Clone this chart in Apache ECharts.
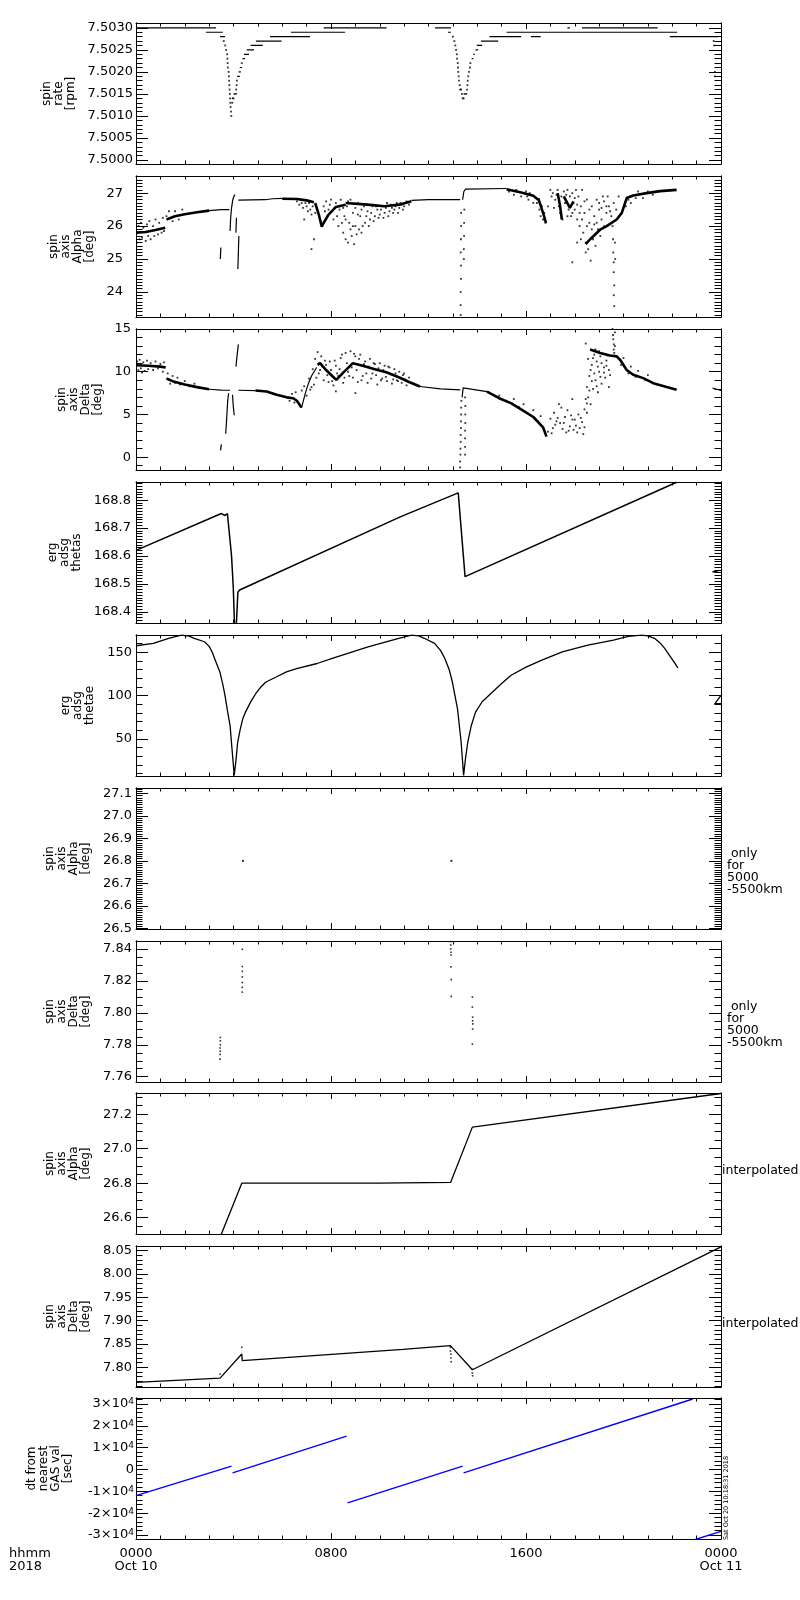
<!DOCTYPE html>
<html><head><meta charset="utf-8">
<script src="https://cdn.jsdelivr.net/npm/echarts@6/dist/echarts.min.js"></script>
<style>html,body{margin:0;padding:0;background:#fff}#c{width:800px;height:1600px}</style>
</head><body><div id="c"></div>
<script>
// ---------------- DATA (hours since 0000 Oct 10, value) ----------------
const timeTicks = [0, 8, 16, 24];
const timeTickLabels = ['0000\nOct 10', '0800', '1600', '0000\nOct 11'];

// Panel 1: spin rate [rpm]  -- steps: [hStart, hEnd, value]
const rateSteps = [
  [0,3.28,7.5030],[2.87,3.56,7.5029],[3.45,3.65,7.5028],
  [4.15,4.26,7.5019],[4.21,4.3,7.5020],[4.26,4.35,7.5021],[4.3,4.38,7.5022],[4.37,4.47,7.5023],
  [4.43,4.64,7.5024],[4.54,4.84,7.5025],[4.7,5.2,7.5026],[4.92,5.97,7.5027],[5.5,7.14,7.5028],
  [6.36,8.58,7.5029],[7.7,10.28,7.5030],
  [12.27,12.92,7.5030],[12.8,12.92,7.5029],[13.77,13.84,7.5023],[13.84,13.9,7.5024],[13.93,14.04,7.5025],
  [13.98,14.2,7.5026],[14.15,14.86,7.5027],[14.5,15.8,7.5028],[16.2,16.6,7.5028],[15.2,22.2,7.5029],
  [17.7,17.8,7.5030],[18.3,21.4,7.5030],[21.9,23.9,7.5028]
];
const rateDip1 = [[3.6,7.5027],[3.66,7.5026],[3.7,7.5025],[3.74,7.5024],[3.75,7.5023],[3.76,7.5022],[3.77,7.5021],
  [3.8,7.5020],[3.81,7.5019],[3.82,7.5018],[3.83,7.5017],[3.84,7.5016],[3.85,7.5015],[3.86,7.5014],[3.87,7.5013],
  [3.88,7.5012],[3.9,7.5011],[3.91,7.5010],[3.95,7.5013],[3.97,7.5014],[4.0,7.5014],[4.04,7.5015],[4.1,7.5015],
  [4.11,7.5016],[4.13,7.5017],[4.14,7.5018]];
const rateDip2 = [[13.0,7.5028],[13.06,7.5027],[13.1,7.5026],[13.13,7.5025],[13.16,7.5024],[13.17,7.5023],[13.2,7.5022],
  [13.21,7.5021],[13.22,7.5020],[13.24,7.5019],[13.25,7.5018],[13.28,7.5017],[13.3,7.5016],[13.34,7.5016],[13.37,7.5015],
  [13.4,7.5014],[13.44,7.5014],[13.48,7.5015],[13.55,7.5015],[13.58,7.5016],[13.6,7.5017],[13.61,7.5018],[13.63,7.5019],
  [13.66,7.5020],[13.7,7.5021],[13.72,7.5022],[23.7,7.5027],[23.72,7.5026],[23.75,7.5020],[23.75,7.5019]];

// Panel 2: spin axis Alpha [deg]
const alphaThick = [
  [[0,25.8],[0.4,25.82],[0.8,25.88],[1.2,25.95]],
  [[1.25,26.2],[1.6,26.3],[2.0,26.36],[2.5,26.42],[3.0,26.47]],
  [[6.0,26.83],[6.6,26.82],[7.0,26.78],[7.3,26.72]],
  [[7.35,26.7],[7.5,26.35],[7.62,25.98],[7.7,26.1],[7.9,26.35],[8.2,26.58],[8.6,26.65]],
  [[8.6,26.7],[9.5,26.65],[10.2,26.6],[10.8,26.65],[11.3,26.75]],
  [[15.2,27.12],[15.8,27.02],[16.3,26.92],[16.5,26.8]],
  [[16.5,26.85],[16.7,26.4],[16.82,26.1]],
  [[17.3,27.0],[17.4,26.6],[17.47,26.2]],
  [[17.55,26.9],[17.8,26.55],[17.95,26.75]],
  [[18.45,25.45],[18.63,25.6],[19.04,25.89],[19.31,26.0],[19.72,26.2],[19.93,26.4],[20.13,26.85],[20.4,26.93],[20.95,27.0],[21.5,27.06],[22.18,27.1]]
];
const alphaThin = [
  [[3.0,26.47],[3.5,26.5],[3.83,26.5]],
  [[3.86,25.85],[3.88,26.2],[3.92,26.55],[3.97,26.8],[4.03,26.93],[4.07,26.95]],
  [[3.46,25.0],[3.48,25.35]],
  [[4.1,25.8],[4.12,26.25]],
  [[4.18,24.7],[4.2,25.2],[4.22,25.7]],
  [[4.2,26.79],[5.3,26.8],[5.6,26.83],[6.0,26.84]],
  [[11.3,26.78],[12.0,26.8],[13.3,26.8]],
  [[13.4,26.8],[13.45,27.05],[13.52,27.12],[15.2,27.14]]
];
const alphaDots = [
  [0.05,25.5],[0.1,26.0],[0.15,25.6],[0.2,26.1],[0.25,25.65],[0.3,25.95],[0.4,25.55],[0.45,26.05],[0.5,25.7],[0.55,26.15],
  [0.6,25.6],[0.7,26.0],[0.75,25.7],[0.8,26.2],[0.9,25.75],[0.95,26.1],[1.05,25.8],[1.1,26.25],[1.15,25.85],[1.25,26.3],
  [1.35,26.45],[1.5,26.15],[1.6,26.45],[1.75,26.2],[1.9,26.5],
  [6.6,26.75],[6.7,26.65],[6.8,26.7],[6.85,26.55],[6.95,26.7],[7.0,26.6],[7.05,26.45],[7.1,26.7],[7.15,26.5],[7.2,26.35],
  [7.25,26.6],[7.3,25.6],[7.35,26.4],[7.2,25.3],[6.9,26.2],
  [7.7,26.6],[7.8,26.75],[7.9,26.5],[8.0,26.8],[8.1,26.2],[8.2,26.7],[8.3,26.0],[8.35,26.5],[8.4,26.8],[8.5,25.8],
  [8.55,26.3],[8.6,25.6],[8.65,26.6],[8.7,25.5],[8.75,26.1],[8.8,26.8],[8.85,25.7],[8.9,26.4],[8.95,25.45],[9.0,26.0],
  [9.1,26.7],[9.15,25.9],[9.2,26.3],[9.3,26.0],[9.35,26.6],[9.4,26.1],[9.5,26.45],[9.6,26.2],[9.7,26.6],[9.8,26.3],
  [9.9,26.5],[10.0,26.35],[10.1,26.6],[10.2,26.4],[10.3,26.7],[10.4,26.45],[10.5,26.55],[10.6,26.5],[10.7,26.7],[10.8,26.55],
  [10.9,26.65],[11.0,26.6],[11.1,26.75],[11.2,26.65],
  [7.75,26.45],[7.85,26.3],[7.95,26.65],[8.05,26.45],[8.15,26.55],[8.25,26.3],[8.45,26.1],[8.5,26.55],[8.6,26.2],[8.7,26.75],
  [8.8,25.9],[8.9,26.0],[9.0,26.55],[9.05,25.75],[9.1,26.35],[9.25,26.5],[9.25,25.8],[9.45,26.3],[9.55,26.0],[9.65,26.4],
  [9.75,26.15],[9.85,26.6],[9.95,26.25],[10.05,26.5],[10.15,26.25],[10.25,26.55],[10.35,26.3],[10.45,26.65],[10.55,26.4],
  [10.65,26.6],[10.75,26.4],[10.85,26.7],[10.95,26.5],
  [13.32,23.3],[13.32,23.6],[13.32,24.0],[13.33,24.4],[13.33,24.8],[13.32,25.2],[13.33,25.6],[13.34,26.0],[13.34,26.4],
  [13.45,25.0],[13.45,25.3],[13.46,25.7],[13.46,26.1],[13.47,26.5],
  [15.3,27.05],[15.5,26.95],[15.6,27.1],[15.8,26.9],[16.0,27.05],[16.1,26.8],[16.2,26.95],[16.3,26.7],[16.4,26.85],[16.55,26.5],
  [16.6,26.3],[16.7,26.2],[16.75,26.4],[16.8,26.1],[16.9,26.6],[17.0,27.1],[17.05,26.9],[17.1,27.0],[17.2,26.8],[17.3,27.1],
  [17.35,26.6],[17.4,26.4],[17.45,26.9],[17.5,26.2],[17.55,27.05],[17.6,26.7],[17.7,27.1],[17.75,26.5],[17.8,26.9],[17.85,26.3],
  [17.9,27.0],[17.95,26.7],[18.0,26.5],[18.05,27.1],[18.1,26.2],[18.15,26.9],[18.2,26.0],[18.25,26.6],[18.3,27.1],[18.35,25.8],
  [18.4,26.4],[18.45,25.5],[18.5,26.8],[18.55,25.3],[18.6,26.1],[18.65,24.95],[18.7,26.6],[18.75,25.6],[18.8,26.3],[18.85,25.4],
  [18.9,26.8],[18.95,25.9],[19.0,26.5],[19.05,25.7],[19.1,26.2],[19.15,26.9],[19.2,26.0],[19.3,26.4],[19.4,26.6],[19.5,26.3],
  [19.6,26.7],[19.7,26.5],[19.8,26.9],[17.9,24.9],[18.1,25.5],
  [16.05,26.9],[16.15,27.0],[16.45,26.7],[16.65,26.6],[17.15,26.55],[17.25,26.95],[17.65,26.95],[17.7,26.3],[17.9,26.4],
  [18.0,26.85],[18.1,26.65],[18.2,26.4],[18.3,26.2],[18.4,26.75],[18.5,26.0],[18.6,26.5],[18.7,25.9],[18.8,26.05],[18.9,26.1],
  [19.0,26.7],[19.1,26.55],[19.2,26.75],[19.3,26.6],[19.35,26.9],[19.45,26.45],[18.25,25.6],[18.45,25.2],
  [19.55,26.0],[19.57,25.6],[19.58,25.2],[19.6,24.9],[19.6,24.6],[19.62,24.2],[19.6,23.9],[19.62,23.57],[19.65,25.5],[19.66,25.0],
  [20.1,26.6],[20.2,26.8],[20.3,26.7],[20.5,26.85],[20.6,27.05],[20.8,26.85],[21.0,27.05],[21.2,26.95]
];

// Panel 3: spin axis Delta [deg]
const deltaThick = [
  [[0,10.75],[0.5,10.7],[1.0,10.6],[1.22,10.5]],
  [[1.25,9.2],[1.5,8.9],[2.0,8.5],[2.5,8.2],[3.0,7.95]],
  [[4.9,7.8],[5.36,7.68],[5.77,7.3],[6.18,7.0],[6.45,6.9],[6.6,6.6],[6.79,5.8]],
  [[7.45,10.8],[7.55,11.0],[7.8,10.2],[8.05,9.5],[8.22,9.05],[8.5,9.9],[8.9,11.0],[9.3,10.7],[9.8,10.3],[10.3,9.9],[10.83,9.3],[11.2,8.8],[11.65,8.27]],
  [[14.4,7.68],[14.9,6.9],[15.4,6.3],[15.85,5.5],[16.3,4.7],[16.7,3.5],[16.84,2.4]],
  [[18.63,12.6],[19.04,12.2],[19.45,11.9],[19.72,11.8],[19.86,11.4],[20.13,10.2],[20.4,9.65],[20.81,9.25],[21.22,8.66],[21.77,8.2],[22.18,7.9]]
];
const deltaThin = [
  [[3.0,7.95],[3.5,7.85],[3.86,7.83]],
  [[4.2,7.83],[4.9,7.8]],
  [[3.47,0.8],[3.5,1.5]],
  [[3.68,2.75],[3.72,4.5],[3.76,6.5],[3.8,7.5]],
  [[3.96,7.3],[3.99,6.0],[4.03,4.9]],
  [[4.1,10.6],[4.15,12.0],[4.2,13.2]],
  [[6.79,5.8],[6.95,7.5],[7.07,8.6],[7.2,9.5],[7.41,10.5]],
  [[11.65,8.27],[12.5,8.0],[13.3,7.87]],
  [[13.38,7.0],[13.42,8.1],[13.5,7.95],[14.4,7.68]],
  [[23.65,8.1],[24,7.8]]
];
const deltaDots = [
  [0.05,11.2],[0.1,10.2],[0.15,11.4],[0.2,10.4],[0.3,11.1],[0.35,10.1],[0.45,11.3],[0.5,10.3],[0.6,11.0],[0.7,10.2],
  [0.8,11.2],[0.9,10.4],[1.0,10.9],[1.1,10.0],[1.15,11.1],[0.25,9.9],[1.3,9.8],[1.4,8.6],[1.5,9.5],[1.6,8.7],
  [1.7,9.3],[1.8,8.5],[2.0,8.9],[2.2,8.3],[2.4,8.6],[2.6,8.1],
  [6.3,6.6],[6.4,7.4],[6.5,6.4],[6.55,7.6],[6.7,6.2],[6.8,7.8],[6.9,8.3],[7.0,7.2],[7.1,9.2],[7.15,7.9],
  [7.25,10.3],[7.3,8.5],[7.35,11.5],[7.45,12.3],[7.5,9.8],[7.6,11.8],[7.7,9.0],[7.8,10.8],[7.9,8.8],[8.0,10.2],
  [8.1,8.4],[8.2,10.7],[8.3,9.5],[8.4,11.6],[8.5,8.7],[8.6,12.2],[8.7,10.0],[8.8,12.4],[8.9,9.3],[9.0,11.8],
  [9.1,8.8],[9.2,12.0],[9.3,9.5],[9.4,11.2],[9.5,8.7],[9.6,11.5],[9.7,9.8],[9.8,10.9],[9.9,8.5],[10.0,11.0],
  [10.1,9.2],[10.2,10.7],[10.3,8.9],[10.4,10.5],[10.5,8.6],[10.6,10.3],[10.7,9.0],[10.8,10.0],[10.9,8.7],[11.0,9.8],
  [11.1,8.4],[11.2,9.3],[11.4,8.6],[8.2,7.7],[9.0,7.5],
  [7.2,8.2],[7.4,9.3],[7.55,10.2],[7.65,10.6],[7.75,11.3],[7.85,9.6],[7.95,11.2],[8.05,8.9],[8.15,11.3],[8.25,9.8],
  [8.35,10.3],[8.45,12.0],[8.55,9.3],[8.65,11.0],[8.75,9.5],[8.85,10.5],[8.95,12.1],[9.05,10.2],[9.15,11.5],[9.25,9.0],
  [9.35,10.9],[9.45,9.8],[9.55,10.6],[9.65,9.2],[9.75,11.0],[9.85,9.6],[9.95,10.4],[10.05,9.0],[10.15,10.2],[10.25,9.4],
  [10.35,10.6],[10.45,9.7],[10.55,9.1],[10.65,9.8],[10.75,8.9],[10.95,9.6],[11.05,9.1],
  [13.3,-1.2],[13.3,-0.5],[13.31,0.3],[13.31,1.0],[13.32,1.8],[13.32,2.6],[13.33,3.4],[13.33,4.2],[13.34,5.0],[13.34,5.8],
  [13.35,6.6],[13.5,0.3],[13.5,1.2],[13.5,2.2],[13.5,3.1],[13.51,4.0],[13.51,5.0],[13.51,6.0],[13.5,7.0],
  [14.9,7.2],[15.2,6.6],[15.5,6.8],[15.7,5.9],[15.9,6.2],[16.1,5.1],[16.3,5.5],[16.5,4.2],[16.6,4.8],[16.9,3.0],
  [17.0,4.5],[17.05,2.8],[17.15,5.2],[17.2,3.8],[17.3,4.6],[17.35,6.2],[17.4,4.0],[17.45,5.8],[17.5,3.3],[17.6,4.7],
  [17.65,2.9],[17.7,5.5],[17.8,3.6],[17.85,4.9],[17.9,6.8],[17.95,3.2],[18.0,4.4],[18.1,2.9],[18.15,5.0],[18.2,3.4],
  [18.3,4.1],[18.35,2.7],[18.4,5.6],[18.45,6.8],[18.5,8.2],[18.55,7.0],[18.6,9.5],[18.65,6.2],[18.7,10.8],[18.75,8.0],
  [18.8,12.0],[18.85,9.0],[18.9,11.2],[18.95,7.6],[19.0,10.0],[19.05,11.8],[19.1,8.6],[19.2,10.5],[19.25,9.3],[19.3,11.3],
  [19.4,10.2],[18.45,13.3],[18.55,11.5],[18.5,5.2],[19.4,8.2],
  [17.1,3.4],[17.25,4.2],[17.55,4.0],[17.75,3.1],[17.9,4.4],[18.05,3.7],[18.25,4.6],[18.4,3.5],[18.5,6.3],[18.6,7.8],
  [18.65,10.2],[18.7,8.9],[18.75,11.6],[18.8,9.8],[18.85,12.6],[18.9,8.3],[18.95,10.6],[19.0,12.4],[19.05,9.4],[19.1,11.0],
  [19.15,12.1],[19.2,9.9],[19.3,10.7],[19.35,11.9],[19.45,9.6],
  [19.55,15.0],[19.57,14.3],[19.58,13.8],[19.6,13.2],[19.6,12.6],[19.62,12.2],[19.65,14.6],[19.65,13.0],
  [19.9,10.8],[20.0,11.6],[20.2,9.8],[20.3,10.6],[20.5,9.4],[20.6,10.1],[20.9,9.0],[21.0,9.6],[21.4,8.5]
];

// Panel 4: erg adsg thetas
const thetas = [
  [[0,168.62],[3.5,168.752],[3.65,168.745],[3.75,168.752],[3.83,168.75],[3.92,168.6],[3.99,168.488],[4.04,168.36]],
  [[4.12,168.36],[4.18,168.47],[4.25,168.478],[10.84,168.74],[13.22,168.826],[13.5,168.526],[22.18,168.864]],
  [[23.65,168.543],[23.9,168.548]]
];
// Panel 5: erg adsg thetae
const thetae = [
  [[0,157.7],[0.71,160.5],[1.34,166.3],[1.86,170],[2.18,168.8],[2.39,166.3],[2.81,162.3],[3.0,157],[3.12,150.7],
   [3.28,139],[3.44,127.5],[3.57,112],[3.65,100.4],[3.75,83],[3.86,65.5],[3.94,38],[4.03,8.1],
   [4.1,25],[4.17,46],[4.28,61.6],[4.38,73.3],[4.49,81],[4.7,92.6],[4.91,102.3],[5.12,110],[5.33,115.8],[5.75,121.6],
   [6.17,127.5],[6.59,131.4],[7.43,137.2],[8.05,143],[9.52,156.5],[10.78,166.3],[11.3,170],[11.6,169],[11.83,166.3],
   [12.25,160.5],[12.5,152],[12.67,143],[12.85,130],[12.98,115.8],[13.19,84.9],[13.34,46],[13.44,8],[13.52,28],
   [13.61,46],[13.75,65],[13.93,81],[14.2,93],[14.55,102.3],[15.0,114],[15.39,123.6],[16.0,133],[16.65,141],
   [17.49,150.7],[18.54,158.5],[19.59,164.3],[20.2,168.5],[20.74,170],[21.0,169],[21.27,166.3],[21.5,161],
   [21.69,154.6],[21.9,146],[22.07,139],[22.23,132.1]],
  [[24,100.4],[23.74,90.7],[24,90.7]]
];
// Panel 6 / 7: only for 5000-5500 km
const alphaShell = [[4.39,26.8],[12.94,26.8]];
const deltaShell = [[3.45,7.771],[3.45,7.774],[3.46,7.776],[3.45,7.778],[3.46,7.780],[3.46,7.7825],[3.46,7.7846],
  [4.36,7.8398],[4.36,7.829],[4.36,7.826],[4.36,7.8225],[4.36,7.819],[4.36,7.816],[4.36,7.813],
  [12.91,7.8446],[12.91,7.8425],[12.91,7.840],[12.92,7.838],[12.92,7.8362],[12.92,7.8288],[12.93,7.8208],[12.93,7.8103],
  [13.8,7.8099],[13.8,7.8036],[13.81,7.7973],[13.81,7.795],[13.82,7.7931],[13.81,7.7899],[13.8,7.7804]];
// Panel 8 / 9: interpolated
const alphaInterp = [[3.49,26.5],[4.34,26.8],[9.93,26.8],[9.95,26.805],[12.91,26.805],[13.8,27.125],[24,27.32]];
const deltaInterp = [[0,7.7677],[3.45,7.777],[3.48,7.7734],[4.34,7.8287],[4.36,7.8144],[10.95,7.8388],[12.9,7.8467],[13.8,7.795],[24,8.058]];
const deltaInterpDots = [[3.45,7.786],[4.34,7.843],[12.9,7.843],[12.9,7.835],[12.92,7.828],[12.92,7.82],[12.93,7.812],[13.8,7.796],[13.8,7.788],[13.81,7.782]];
// Panel 10: dt from nearest GAS val [sec]
const dtGas = [
  [[0,-12000],[3.92,1530]],
  [[3.96,-1530],[8.64,15290]],
  [[8.68,-15290],[13.4,1530]],
  [[13.44,-1530],[22.84,32300]],
  [[22.88,-32300],[24,-28300]]
];

// Tick label values per panel
const ticks1 = [7.5000,7.5005,7.5010,7.5015,7.5020,7.5025,7.5030];
const ticks2 = [24,25,26,27];
const ticks3 = [0,5,10,15];
const ticks4 = [168.4,168.5,168.6,168.7,168.8];
const ticks5 = [50,100,150];
const ticks6 = [26.5,26.6,26.7,26.8,26.9,27.0,27.1];
const ticks7 = [7.76,7.78,7.80,7.82,7.84];
const ticks8 = [26.6,26.8,27.0,27.2];
const ticks9 = [7.80,7.85,7.90,7.95,8.00,8.05];
const ticks10 = [-30000,-20000,-10000,0,10000,20000,30000];

// ---------------- LAYOUT ----------------
const FONT = 'DejaVu Sans';
const tops = [23,176,329,482,635,788,941,1093,1246,1398];
const PH = 141;
const panels = [
  {title:'spin\nrate\n[rpm]', min:7.49991, max:7.50311, major:ticks1, minor:0.0001, dec:4, gap:58, lm:3},
  {title:'spin\naxis\nAlpha\n[deg]', min:23.24, max:27.52, major:ticks2, minor:0.1, dec:0, gap:28, lm:13},
  {title:'spin\naxis\nDelta\n[deg]', min:-1.5, max:15, major:ticks3, minor:1, dec:0, gap:28, lm:5},
  {title:'erg\nadsg\nthetas', min:168.36, max:168.865, major:ticks4, minor:0.01, dec:1, gap:51, lm:5},
  {title:'erg\nadsg\nthetae', min:7.3, max:170.1, major:ticks5, minor:10, dec:0, gap:40, lm:4},
  {title:'spin\naxis\nAlpha\n[deg]', min:26.497, max:27.124, major:ticks6, minor:0.01, dec:1, gap:41, lm:4},
  {title:'spin\naxis\nDelta\n[deg]', min:7.7567, max:7.845, major:ticks7, minor:0.005, dec:2, gap:41, lm:4},
  {title:'spin\naxis\nAlpha\n[deg]', min:26.505, max:27.323, major:ticks8, minor:0.05, dec:1, gap:41, lm:4},
  {title:'spin\naxis\nDelta\n[deg]', min:7.758, max:8.060, major:ticks9, minor:0.01, dec:2, gap:41, lm:4},
  {title:'dt from\nnearest\nGAS val\n[sec]', min:-31830, max:32750, major:ticks10, minor:2000, dec:-1, gap:62, lm:2}
];
function stepsIn(min, max, step){
  const out = [];
  const k0 = Math.ceil(min/step - 1e-7), k1 = Math.floor(max/step + 1e-7);
  for (let k = k0; k <= k1; k++) out.push(+(k*step).toFixed(8));
  return out;
}
const BLACK = '#000';
const grids = [], xAxes = [], yAxes = [], series = [];
panels.forEach((p, i) => {
  grids.push({left:136, right:79, top:tops[i], height:PH, containLabel:false});
  const xBase = {gridIndex:i, type:'value', min:0, max:24, interval:8,
    axisLine:{show:true, onZero:false, lineStyle:{color:BLACK, width:1}},
    axisTick:{show:true, inside:true, length:6, lineStyle:{color:BLACK, width:1}},
    minorTick:{show:true, splitNumber:8, length:3.5, lineStyle:{color:BLACK, width:1}},
    splitLine:{show:false}, minorSplitLine:{show:false}};
  xAxes.push(Object.assign({}, xBase, {position:'bottom',
    axisLabel: i === 9 ? {show:true, margin:8, fontFamily:FONT, fontSize:13, lineHeight:13, color:BLACK,
      showMinLabel:true, showMaxLabel:true,
      formatter: v => { const k = timeTicks.indexOf(v); return k >= 0 ? timeTickLabels[k] : ''; }} : {show:false}}));
  xAxes.push(Object.assign({}, xBase, {position:'top', axisLabel:{show:false}}));
  const minor = stepsIn(p.min, p.max, p.minor);
  const common = {gridIndex:i, type:'value', min:p.min, max:p.max, splitLine:{show:false},
    axisLine:{show:true, onZero:false, lineStyle:{color:BLACK, width:1}}};
  const fmt = p.dec < 0
    ? (v => v === 0 ? '{m|0}' : '{m|' + (v/10000) + '×10}{s|4}')
    : (v => v.toFixed(p.dec));
  const lab = {customValues:p.major, formatter:fmt, margin:p.lm, fontFamily:FONT, fontSize:13, color:BLACK,
    showMinLabel:true, showMaxLabel:true};
  if (p.dec < 0) lab.rich = {m:{fontFamily:FONT, fontSize:13, color:BLACK}, s:{fontFamily:FONT, fontSize:9, color:BLACK, verticalAlign:'top', lineHeight:9}};
  yAxes.push(Object.assign({}, common, {position:'left', name:p.title, nameLocation:'middle', nameRotate:90, nameGap:p.gap,
    nameTextStyle:{fontFamily:FONT, fontSize:12, lineHeight:12, color:BLACK, align:'center'},
    axisTick:{show:true, inside:true, length:12, customValues:p.major, lineStyle:{color:BLACK}},
    axisLabel:lab}));
  yAxes.push(Object.assign({}, common, {position:'left',
    axisTick:{show:true, inside:true, length:6.5, customValues:minor, lineStyle:{color:BLACK}}, axisLabel:{show:false}}));
  yAxes.push(Object.assign({}, common, {position:'right',
    axisTick:{show:true, inside:true, length:12, customValues:p.major, lineStyle:{color:BLACK}}, axisLabel:{show:false}}));
  yAxes.push(Object.assign({}, common, {position:'right',
    axisTick:{show:true, inside:true, length:6.5, customValues:minor, lineStyle:{color:BLACK}}, axisLabel:{show:false}}));
});

function addLines(i, segs, width, color){
  segs.forEach(s => series.push({type:'line', xAxisIndex:2*i, yAxisIndex:4*i, data:s, symbol:'none', showSymbol:false,
    lineStyle:{color:color || BLACK, width:width}, silent:true, animation:false, clip:true, z:3}));
}
function addDots(i, pts, size){
  series.push({type:'scatter', xAxisIndex:2*i, yAxisIndex:4*i, data:pts, symbol:'rect', symbolSize:size,
    itemStyle:{color:BLACK}, silent:true, animation:false, clip:true, z:4});
}
addLines(0, rateSteps.map(s => [[s[0], s[2]], [s[1], s[2]]]), 1.2);
addDots(0, rateDip1, 1.8);
addDots(0, rateDip2, 1.8);
addLines(1, alphaThick, 2.6);
addLines(1, alphaThin, 1.2);
addDots(1, alphaDots, 1.8);
addLines(2, deltaThick, 2.6);
addLines(2, deltaThin, 1.2);
addDots(2, deltaDots, 1.8);
addLines(3, thetas, 1.5);
addLines(4, thetae, 1.3);
addDots(5, alphaShell, 2);
addDots(6, deltaShell, 1.6);
addLines(7, [alphaInterp], 1.3);
addLines(8, [deltaInterp], 1.3);
addDots(8, deltaInterpDots, 1.6);
addLines(9, dtGas, 1.4, '#0000ff');

const txt = (x, y, text, extra) => Object.assign({type:'text', x:x, y:y, silent:true, z:10,
  style:Object.assign({text:text, fill:BLACK, font:'12.5px "DejaVu Sans"', textAlign:'left', textVerticalAlign:'top', lineHeight:12}, extra || {})});
const graphic = [
  txt(9, 1547, 'hhmm\n2018', {font:'13px "DejaVu Sans"', lineHeight:13}),
  txt(727, 848, ' only\nfor\n5000\n-5500km'),
  txt(727, 1001, ' only\nfor\n5000\n-5500km'),
  txt(722, 1165, 'interpolated'),
  txt(722, 1318, 'interpolated'),
  {type:'text', x:726, y:1498, rotation:Math.PI/2, silent:true,
   style:{text:'Sat Oct 20 10:18:31 2018', fill:BLACK, font:'6.5px "DejaVu Sans"', textAlign:'center', textVerticalAlign:'middle'}}
];

const chart = echarts.init(document.getElementById('c'), null, {renderer:'canvas'});
chart.setOption({
  animation:false, backgroundColor:'#fff',
  textStyle:{fontFamily:FONT},
  grid:grids, xAxis:xAxes, yAxis:yAxes, series:series, graphic:graphic
});
</script>
</body></html>
